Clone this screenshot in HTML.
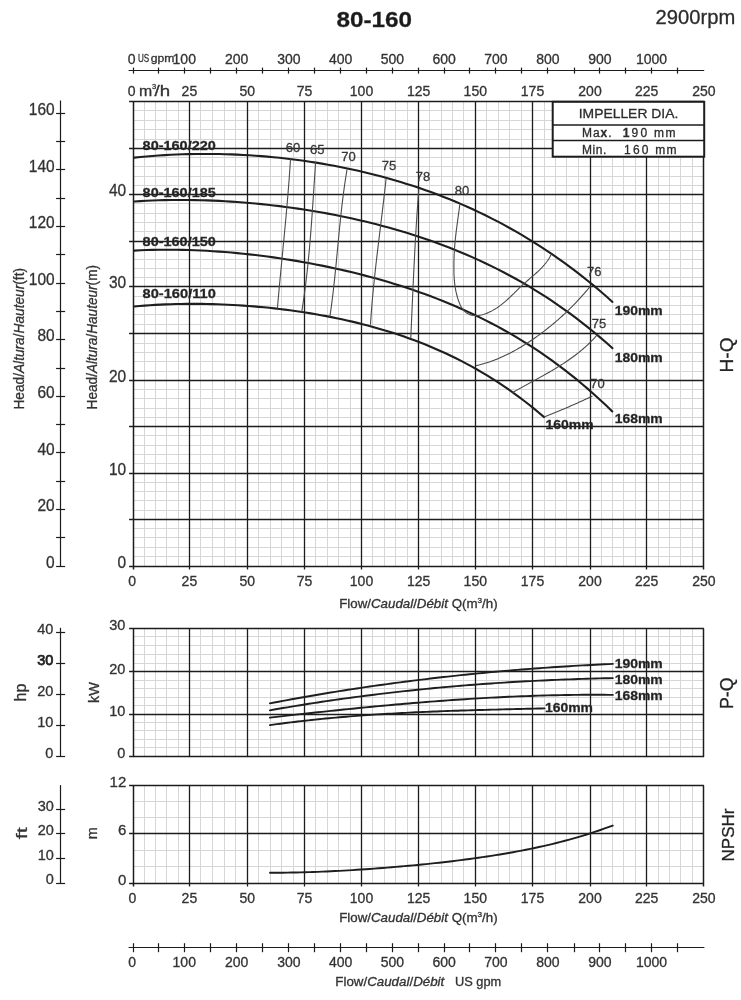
<!DOCTYPE html>
<html><head><meta charset="utf-8"><title>80-160 2900rpm</title>
<style>
html,body{margin:0;padding:0;background:#fff;}
body{width:741px;height:1000px;overflow:hidden;}
svg{display:block;font-family:"Liberation Sans", Arial, sans-serif;}
text{stroke:#333;stroke-width:0.3px;}
</style></head><body>
<svg width="741" height="1000" viewBox="0 0 741 1000">
<rect width="741" height="1000" fill="#fff"/>
<line x1="144.50" y1="101.50" x2="144.50" y2="566.50" stroke="#d6d6d6" stroke-width="1" />
<line x1="155.50" y1="101.50" x2="155.50" y2="566.50" stroke="#d6d6d6" stroke-width="1" />
<line x1="166.50" y1="101.50" x2="166.50" y2="566.50" stroke="#d6d6d6" stroke-width="1" />
<line x1="178.50" y1="101.50" x2="178.50" y2="566.50" stroke="#d6d6d6" stroke-width="1" />
<line x1="200.50" y1="101.50" x2="200.50" y2="566.50" stroke="#d6d6d6" stroke-width="1" />
<line x1="212.50" y1="101.50" x2="212.50" y2="566.50" stroke="#d6d6d6" stroke-width="1" />
<line x1="224.50" y1="101.50" x2="224.50" y2="566.50" stroke="#d6d6d6" stroke-width="1" />
<line x1="235.50" y1="101.50" x2="235.50" y2="566.50" stroke="#d6d6d6" stroke-width="1" />
<line x1="258.50" y1="101.50" x2="258.50" y2="566.50" stroke="#d6d6d6" stroke-width="1" />
<line x1="270.50" y1="101.50" x2="270.50" y2="566.50" stroke="#d6d6d6" stroke-width="1" />
<line x1="281.50" y1="101.50" x2="281.50" y2="566.50" stroke="#d6d6d6" stroke-width="1" />
<line x1="293.50" y1="101.50" x2="293.50" y2="566.50" stroke="#d6d6d6" stroke-width="1" />
<line x1="315.50" y1="101.50" x2="315.50" y2="566.50" stroke="#d6d6d6" stroke-width="1" />
<line x1="327.50" y1="101.50" x2="327.50" y2="566.50" stroke="#d6d6d6" stroke-width="1" />
<line x1="338.50" y1="101.50" x2="338.50" y2="566.50" stroke="#d6d6d6" stroke-width="1" />
<line x1="350.50" y1="101.50" x2="350.50" y2="566.50" stroke="#d6d6d6" stroke-width="1" />
<line x1="372.50" y1="101.50" x2="372.50" y2="566.50" stroke="#d6d6d6" stroke-width="1" />
<line x1="384.50" y1="101.50" x2="384.50" y2="566.50" stroke="#d6d6d6" stroke-width="1" />
<line x1="395.50" y1="101.50" x2="395.50" y2="566.50" stroke="#d6d6d6" stroke-width="1" />
<line x1="407.50" y1="101.50" x2="407.50" y2="566.50" stroke="#d6d6d6" stroke-width="1" />
<line x1="429.50" y1="101.50" x2="429.50" y2="566.50" stroke="#d6d6d6" stroke-width="1" />
<line x1="441.50" y1="101.50" x2="441.50" y2="566.50" stroke="#d6d6d6" stroke-width="1" />
<line x1="452.50" y1="101.50" x2="452.50" y2="566.50" stroke="#d6d6d6" stroke-width="1" />
<line x1="463.50" y1="101.50" x2="463.50" y2="566.50" stroke="#d6d6d6" stroke-width="1" />
<line x1="486.50" y1="101.50" x2="486.50" y2="566.50" stroke="#d6d6d6" stroke-width="1" />
<line x1="498.50" y1="101.50" x2="498.50" y2="566.50" stroke="#d6d6d6" stroke-width="1" />
<line x1="509.50" y1="101.50" x2="509.50" y2="566.50" stroke="#d6d6d6" stroke-width="1" />
<line x1="521.50" y1="101.50" x2="521.50" y2="566.50" stroke="#d6d6d6" stroke-width="1" />
<line x1="544.50" y1="101.50" x2="544.50" y2="566.50" stroke="#d6d6d6" stroke-width="1" />
<line x1="555.50" y1="101.50" x2="555.50" y2="566.50" stroke="#d6d6d6" stroke-width="1" />
<line x1="566.50" y1="101.50" x2="566.50" y2="566.50" stroke="#d6d6d6" stroke-width="1" />
<line x1="578.50" y1="101.50" x2="578.50" y2="566.50" stroke="#d6d6d6" stroke-width="1" />
<line x1="601.50" y1="101.50" x2="601.50" y2="566.50" stroke="#d6d6d6" stroke-width="1" />
<line x1="612.50" y1="101.50" x2="612.50" y2="566.50" stroke="#d6d6d6" stroke-width="1" />
<line x1="623.50" y1="101.50" x2="623.50" y2="566.50" stroke="#d6d6d6" stroke-width="1" />
<line x1="635.50" y1="101.50" x2="635.50" y2="566.50" stroke="#d6d6d6" stroke-width="1" />
<line x1="658.50" y1="101.50" x2="658.50" y2="566.50" stroke="#d6d6d6" stroke-width="1" />
<line x1="669.50" y1="101.50" x2="669.50" y2="566.50" stroke="#d6d6d6" stroke-width="1" />
<line x1="680.50" y1="101.50" x2="680.50" y2="566.50" stroke="#d6d6d6" stroke-width="1" />
<line x1="692.50" y1="101.50" x2="692.50" y2="566.50" stroke="#d6d6d6" stroke-width="1" />
<line x1="133.10" y1="556.50" x2="703.90" y2="556.50" stroke="#d6d6d6" stroke-width="1" />
<line x1="133.10" y1="547.50" x2="703.90" y2="547.50" stroke="#d6d6d6" stroke-width="1" />
<line x1="133.10" y1="537.50" x2="703.90" y2="537.50" stroke="#d6d6d6" stroke-width="1" />
<line x1="133.10" y1="528.50" x2="703.90" y2="528.50" stroke="#d6d6d6" stroke-width="1" />
<line x1="133.10" y1="510.50" x2="703.90" y2="510.50" stroke="#d6d6d6" stroke-width="1" />
<line x1="133.10" y1="500.50" x2="703.90" y2="500.50" stroke="#d6d6d6" stroke-width="1" />
<line x1="133.10" y1="491.50" x2="703.90" y2="491.50" stroke="#d6d6d6" stroke-width="1" />
<line x1="133.10" y1="482.50" x2="703.90" y2="482.50" stroke="#d6d6d6" stroke-width="1" />
<line x1="133.10" y1="463.50" x2="703.90" y2="463.50" stroke="#d6d6d6" stroke-width="1" />
<line x1="133.10" y1="454.50" x2="703.90" y2="454.50" stroke="#d6d6d6" stroke-width="1" />
<line x1="133.10" y1="445.50" x2="703.90" y2="445.50" stroke="#d6d6d6" stroke-width="1" />
<line x1="133.10" y1="435.50" x2="703.90" y2="435.50" stroke="#d6d6d6" stroke-width="1" />
<line x1="133.10" y1="417.50" x2="703.90" y2="417.50" stroke="#d6d6d6" stroke-width="1" />
<line x1="133.10" y1="408.50" x2="703.90" y2="408.50" stroke="#d6d6d6" stroke-width="1" />
<line x1="133.10" y1="398.50" x2="703.90" y2="398.50" stroke="#d6d6d6" stroke-width="1" />
<line x1="133.10" y1="389.50" x2="703.90" y2="389.50" stroke="#d6d6d6" stroke-width="1" />
<line x1="133.10" y1="371.50" x2="703.90" y2="371.50" stroke="#d6d6d6" stroke-width="1" />
<line x1="133.10" y1="361.50" x2="703.90" y2="361.50" stroke="#d6d6d6" stroke-width="1" />
<line x1="133.10" y1="352.50" x2="703.90" y2="352.50" stroke="#d6d6d6" stroke-width="1" />
<line x1="133.10" y1="343.50" x2="703.90" y2="343.50" stroke="#d6d6d6" stroke-width="1" />
<line x1="133.10" y1="324.50" x2="703.90" y2="324.50" stroke="#d6d6d6" stroke-width="1" />
<line x1="133.10" y1="314.50" x2="703.90" y2="314.50" stroke="#d6d6d6" stroke-width="1" />
<line x1="133.10" y1="305.50" x2="703.90" y2="305.50" stroke="#d6d6d6" stroke-width="1" />
<line x1="133.10" y1="296.50" x2="703.90" y2="296.50" stroke="#d6d6d6" stroke-width="1" />
<line x1="133.10" y1="277.50" x2="703.90" y2="277.50" stroke="#d6d6d6" stroke-width="1" />
<line x1="133.10" y1="268.50" x2="703.90" y2="268.50" stroke="#d6d6d6" stroke-width="1" />
<line x1="133.10" y1="259.50" x2="703.90" y2="259.50" stroke="#d6d6d6" stroke-width="1" />
<line x1="133.10" y1="250.50" x2="703.90" y2="250.50" stroke="#d6d6d6" stroke-width="1" />
<line x1="133.10" y1="231.50" x2="703.90" y2="231.50" stroke="#d6d6d6" stroke-width="1" />
<line x1="133.10" y1="222.50" x2="703.90" y2="222.50" stroke="#d6d6d6" stroke-width="1" />
<line x1="133.10" y1="213.50" x2="703.90" y2="213.50" stroke="#d6d6d6" stroke-width="1" />
<line x1="133.10" y1="203.50" x2="703.90" y2="203.50" stroke="#d6d6d6" stroke-width="1" />
<line x1="133.10" y1="185.50" x2="703.90" y2="185.50" stroke="#d6d6d6" stroke-width="1" />
<line x1="133.10" y1="176.50" x2="703.90" y2="176.50" stroke="#d6d6d6" stroke-width="1" />
<line x1="133.10" y1="166.50" x2="703.90" y2="166.50" stroke="#d6d6d6" stroke-width="1" />
<line x1="133.10" y1="157.50" x2="703.90" y2="157.50" stroke="#d6d6d6" stroke-width="1" />
<line x1="133.10" y1="139.50" x2="703.90" y2="139.50" stroke="#d6d6d6" stroke-width="1" />
<line x1="133.10" y1="129.50" x2="703.90" y2="129.50" stroke="#d6d6d6" stroke-width="1" />
<line x1="133.10" y1="120.50" x2="703.90" y2="120.50" stroke="#d6d6d6" stroke-width="1" />
<line x1="133.10" y1="110.50" x2="703.90" y2="110.50" stroke="#d6d6d6" stroke-width="1" />
<line x1="129.10" y1="566.50" x2="703.90" y2="566.50" stroke="#1c1c1c" stroke-width="1.3" />
<line x1="129.10" y1="519.50" x2="703.90" y2="519.50" stroke="#1c1c1c" stroke-width="1.3" />
<line x1="129.10" y1="473.50" x2="703.90" y2="473.50" stroke="#1c1c1c" stroke-width="1.3" />
<line x1="129.10" y1="426.50" x2="703.90" y2="426.50" stroke="#1c1c1c" stroke-width="1.3" />
<line x1="129.10" y1="380.50" x2="703.90" y2="380.50" stroke="#1c1c1c" stroke-width="1.3" />
<line x1="129.10" y1="333.50" x2="703.90" y2="333.50" stroke="#1c1c1c" stroke-width="1.3" />
<line x1="129.10" y1="286.50" x2="703.90" y2="286.50" stroke="#1c1c1c" stroke-width="1.3" />
<line x1="129.10" y1="241.50" x2="703.90" y2="241.50" stroke="#1c1c1c" stroke-width="1.3" />
<line x1="129.10" y1="194.50" x2="703.90" y2="194.50" stroke="#1c1c1c" stroke-width="1.3" />
<line x1="129.10" y1="148.50" x2="703.90" y2="148.50" stroke="#1c1c1c" stroke-width="1.3" />
<line x1="129.10" y1="101.50" x2="703.90" y2="101.50" stroke="#1c1c1c" stroke-width="1.3" />
<line x1="189.50" y1="101.50" x2="189.50" y2="569.50" stroke="#1c1c1c" stroke-width="1.3" />
<line x1="247.50" y1="101.50" x2="247.50" y2="569.50" stroke="#1c1c1c" stroke-width="1.3" />
<line x1="304.50" y1="101.50" x2="304.50" y2="569.50" stroke="#1c1c1c" stroke-width="1.3" />
<line x1="361.50" y1="101.50" x2="361.50" y2="569.50" stroke="#1c1c1c" stroke-width="1.3" />
<line x1="418.50" y1="101.50" x2="418.50" y2="569.50" stroke="#1c1c1c" stroke-width="1.3" />
<line x1="475.50" y1="101.50" x2="475.50" y2="569.50" stroke="#1c1c1c" stroke-width="1.3" />
<line x1="532.50" y1="101.50" x2="532.50" y2="569.50" stroke="#1c1c1c" stroke-width="1.3" />
<line x1="590.50" y1="101.50" x2="590.50" y2="569.50" stroke="#1c1c1c" stroke-width="1.3" />
<line x1="646.50" y1="101.50" x2="646.50" y2="569.50" stroke="#1c1c1c" stroke-width="1.3" />
<line x1="133.50" y1="101.50" x2="133.50" y2="569.50" stroke="#1c1c1c" stroke-width="1.5" />
<line x1="703.50" y1="101.50" x2="703.50" y2="569.50" stroke="#1c1c1c" stroke-width="1.5" />
<line x1="144.50" y1="628.50" x2="144.50" y2="756.50" stroke="#d6d6d6" stroke-width="1" />
<line x1="155.50" y1="628.50" x2="155.50" y2="756.50" stroke="#d6d6d6" stroke-width="1" />
<line x1="166.50" y1="628.50" x2="166.50" y2="756.50" stroke="#d6d6d6" stroke-width="1" />
<line x1="178.50" y1="628.50" x2="178.50" y2="756.50" stroke="#d6d6d6" stroke-width="1" />
<line x1="200.50" y1="628.50" x2="200.50" y2="756.50" stroke="#d6d6d6" stroke-width="1" />
<line x1="212.50" y1="628.50" x2="212.50" y2="756.50" stroke="#d6d6d6" stroke-width="1" />
<line x1="224.50" y1="628.50" x2="224.50" y2="756.50" stroke="#d6d6d6" stroke-width="1" />
<line x1="235.50" y1="628.50" x2="235.50" y2="756.50" stroke="#d6d6d6" stroke-width="1" />
<line x1="258.50" y1="628.50" x2="258.50" y2="756.50" stroke="#d6d6d6" stroke-width="1" />
<line x1="270.50" y1="628.50" x2="270.50" y2="756.50" stroke="#d6d6d6" stroke-width="1" />
<line x1="281.50" y1="628.50" x2="281.50" y2="756.50" stroke="#d6d6d6" stroke-width="1" />
<line x1="293.50" y1="628.50" x2="293.50" y2="756.50" stroke="#d6d6d6" stroke-width="1" />
<line x1="315.50" y1="628.50" x2="315.50" y2="756.50" stroke="#d6d6d6" stroke-width="1" />
<line x1="327.50" y1="628.50" x2="327.50" y2="756.50" stroke="#d6d6d6" stroke-width="1" />
<line x1="338.50" y1="628.50" x2="338.50" y2="756.50" stroke="#d6d6d6" stroke-width="1" />
<line x1="350.50" y1="628.50" x2="350.50" y2="756.50" stroke="#d6d6d6" stroke-width="1" />
<line x1="372.50" y1="628.50" x2="372.50" y2="756.50" stroke="#d6d6d6" stroke-width="1" />
<line x1="384.50" y1="628.50" x2="384.50" y2="756.50" stroke="#d6d6d6" stroke-width="1" />
<line x1="395.50" y1="628.50" x2="395.50" y2="756.50" stroke="#d6d6d6" stroke-width="1" />
<line x1="407.50" y1="628.50" x2="407.50" y2="756.50" stroke="#d6d6d6" stroke-width="1" />
<line x1="429.50" y1="628.50" x2="429.50" y2="756.50" stroke="#d6d6d6" stroke-width="1" />
<line x1="441.50" y1="628.50" x2="441.50" y2="756.50" stroke="#d6d6d6" stroke-width="1" />
<line x1="452.50" y1="628.50" x2="452.50" y2="756.50" stroke="#d6d6d6" stroke-width="1" />
<line x1="463.50" y1="628.50" x2="463.50" y2="756.50" stroke="#d6d6d6" stroke-width="1" />
<line x1="486.50" y1="628.50" x2="486.50" y2="756.50" stroke="#d6d6d6" stroke-width="1" />
<line x1="498.50" y1="628.50" x2="498.50" y2="756.50" stroke="#d6d6d6" stroke-width="1" />
<line x1="509.50" y1="628.50" x2="509.50" y2="756.50" stroke="#d6d6d6" stroke-width="1" />
<line x1="521.50" y1="628.50" x2="521.50" y2="756.50" stroke="#d6d6d6" stroke-width="1" />
<line x1="544.50" y1="628.50" x2="544.50" y2="756.50" stroke="#d6d6d6" stroke-width="1" />
<line x1="555.50" y1="628.50" x2="555.50" y2="756.50" stroke="#d6d6d6" stroke-width="1" />
<line x1="566.50" y1="628.50" x2="566.50" y2="756.50" stroke="#d6d6d6" stroke-width="1" />
<line x1="578.50" y1="628.50" x2="578.50" y2="756.50" stroke="#d6d6d6" stroke-width="1" />
<line x1="601.50" y1="628.50" x2="601.50" y2="756.50" stroke="#d6d6d6" stroke-width="1" />
<line x1="612.50" y1="628.50" x2="612.50" y2="756.50" stroke="#d6d6d6" stroke-width="1" />
<line x1="623.50" y1="628.50" x2="623.50" y2="756.50" stroke="#d6d6d6" stroke-width="1" />
<line x1="635.50" y1="628.50" x2="635.50" y2="756.50" stroke="#d6d6d6" stroke-width="1" />
<line x1="658.50" y1="628.50" x2="658.50" y2="756.50" stroke="#d6d6d6" stroke-width="1" />
<line x1="669.50" y1="628.50" x2="669.50" y2="756.50" stroke="#d6d6d6" stroke-width="1" />
<line x1="680.50" y1="628.50" x2="680.50" y2="756.50" stroke="#d6d6d6" stroke-width="1" />
<line x1="692.50" y1="628.50" x2="692.50" y2="756.50" stroke="#d6d6d6" stroke-width="1" />
<line x1="133.10" y1="747.50" x2="703.90" y2="747.50" stroke="#d6d6d6" stroke-width="1" />
<line x1="133.10" y1="739.50" x2="703.90" y2="739.50" stroke="#d6d6d6" stroke-width="1" />
<line x1="133.10" y1="730.50" x2="703.90" y2="730.50" stroke="#d6d6d6" stroke-width="1" />
<line x1="133.10" y1="722.50" x2="703.90" y2="722.50" stroke="#d6d6d6" stroke-width="1" />
<line x1="133.10" y1="705.50" x2="703.90" y2="705.50" stroke="#d6d6d6" stroke-width="1" />
<line x1="133.10" y1="697.50" x2="703.90" y2="697.50" stroke="#d6d6d6" stroke-width="1" />
<line x1="133.10" y1="688.50" x2="703.90" y2="688.50" stroke="#d6d6d6" stroke-width="1" />
<line x1="133.10" y1="680.50" x2="703.90" y2="680.50" stroke="#d6d6d6" stroke-width="1" />
<line x1="133.10" y1="663.50" x2="703.90" y2="663.50" stroke="#d6d6d6" stroke-width="1" />
<line x1="133.10" y1="654.50" x2="703.90" y2="654.50" stroke="#d6d6d6" stroke-width="1" />
<line x1="133.10" y1="645.50" x2="703.90" y2="645.50" stroke="#d6d6d6" stroke-width="1" />
<line x1="133.10" y1="636.50" x2="703.90" y2="636.50" stroke="#d6d6d6" stroke-width="1" />
<line x1="129.10" y1="756.50" x2="703.90" y2="756.50" stroke="#1c1c1c" stroke-width="1.3" />
<line x1="129.10" y1="714.50" x2="703.90" y2="714.50" stroke="#1c1c1c" stroke-width="1.3" />
<line x1="129.10" y1="671.50" x2="703.90" y2="671.50" stroke="#1c1c1c" stroke-width="1.3" />
<line x1="129.10" y1="628.50" x2="703.90" y2="628.50" stroke="#1c1c1c" stroke-width="1.3" />
<line x1="189.50" y1="628.50" x2="189.50" y2="757.10" stroke="#1c1c1c" stroke-width="1.3" />
<line x1="247.50" y1="628.50" x2="247.50" y2="757.10" stroke="#1c1c1c" stroke-width="1.3" />
<line x1="304.50" y1="628.50" x2="304.50" y2="757.10" stroke="#1c1c1c" stroke-width="1.3" />
<line x1="361.50" y1="628.50" x2="361.50" y2="757.10" stroke="#1c1c1c" stroke-width="1.3" />
<line x1="418.50" y1="628.50" x2="418.50" y2="757.10" stroke="#1c1c1c" stroke-width="1.3" />
<line x1="475.50" y1="628.50" x2="475.50" y2="757.10" stroke="#1c1c1c" stroke-width="1.3" />
<line x1="532.50" y1="628.50" x2="532.50" y2="757.10" stroke="#1c1c1c" stroke-width="1.3" />
<line x1="590.50" y1="628.50" x2="590.50" y2="757.10" stroke="#1c1c1c" stroke-width="1.3" />
<line x1="646.50" y1="628.50" x2="646.50" y2="757.10" stroke="#1c1c1c" stroke-width="1.3" />
<line x1="133.50" y1="628.50" x2="133.50" y2="757.10" stroke="#1c1c1c" stroke-width="1.5" />
<line x1="703.50" y1="628.50" x2="703.50" y2="757.10" stroke="#1c1c1c" stroke-width="1.5" />
<line x1="144.50" y1="785.50" x2="144.50" y2="883.50" stroke="#d6d6d6" stroke-width="1" />
<line x1="155.50" y1="785.50" x2="155.50" y2="883.50" stroke="#d6d6d6" stroke-width="1" />
<line x1="166.50" y1="785.50" x2="166.50" y2="883.50" stroke="#d6d6d6" stroke-width="1" />
<line x1="178.50" y1="785.50" x2="178.50" y2="883.50" stroke="#d6d6d6" stroke-width="1" />
<line x1="200.50" y1="785.50" x2="200.50" y2="883.50" stroke="#d6d6d6" stroke-width="1" />
<line x1="212.50" y1="785.50" x2="212.50" y2="883.50" stroke="#d6d6d6" stroke-width="1" />
<line x1="224.50" y1="785.50" x2="224.50" y2="883.50" stroke="#d6d6d6" stroke-width="1" />
<line x1="235.50" y1="785.50" x2="235.50" y2="883.50" stroke="#d6d6d6" stroke-width="1" />
<line x1="258.50" y1="785.50" x2="258.50" y2="883.50" stroke="#d6d6d6" stroke-width="1" />
<line x1="270.50" y1="785.50" x2="270.50" y2="883.50" stroke="#d6d6d6" stroke-width="1" />
<line x1="281.50" y1="785.50" x2="281.50" y2="883.50" stroke="#d6d6d6" stroke-width="1" />
<line x1="293.50" y1="785.50" x2="293.50" y2="883.50" stroke="#d6d6d6" stroke-width="1" />
<line x1="315.50" y1="785.50" x2="315.50" y2="883.50" stroke="#d6d6d6" stroke-width="1" />
<line x1="327.50" y1="785.50" x2="327.50" y2="883.50" stroke="#d6d6d6" stroke-width="1" />
<line x1="338.50" y1="785.50" x2="338.50" y2="883.50" stroke="#d6d6d6" stroke-width="1" />
<line x1="350.50" y1="785.50" x2="350.50" y2="883.50" stroke="#d6d6d6" stroke-width="1" />
<line x1="372.50" y1="785.50" x2="372.50" y2="883.50" stroke="#d6d6d6" stroke-width="1" />
<line x1="384.50" y1="785.50" x2="384.50" y2="883.50" stroke="#d6d6d6" stroke-width="1" />
<line x1="395.50" y1="785.50" x2="395.50" y2="883.50" stroke="#d6d6d6" stroke-width="1" />
<line x1="407.50" y1="785.50" x2="407.50" y2="883.50" stroke="#d6d6d6" stroke-width="1" />
<line x1="429.50" y1="785.50" x2="429.50" y2="883.50" stroke="#d6d6d6" stroke-width="1" />
<line x1="441.50" y1="785.50" x2="441.50" y2="883.50" stroke="#d6d6d6" stroke-width="1" />
<line x1="452.50" y1="785.50" x2="452.50" y2="883.50" stroke="#d6d6d6" stroke-width="1" />
<line x1="463.50" y1="785.50" x2="463.50" y2="883.50" stroke="#d6d6d6" stroke-width="1" />
<line x1="486.50" y1="785.50" x2="486.50" y2="883.50" stroke="#d6d6d6" stroke-width="1" />
<line x1="498.50" y1="785.50" x2="498.50" y2="883.50" stroke="#d6d6d6" stroke-width="1" />
<line x1="509.50" y1="785.50" x2="509.50" y2="883.50" stroke="#d6d6d6" stroke-width="1" />
<line x1="521.50" y1="785.50" x2="521.50" y2="883.50" stroke="#d6d6d6" stroke-width="1" />
<line x1="544.50" y1="785.50" x2="544.50" y2="883.50" stroke="#d6d6d6" stroke-width="1" />
<line x1="555.50" y1="785.50" x2="555.50" y2="883.50" stroke="#d6d6d6" stroke-width="1" />
<line x1="566.50" y1="785.50" x2="566.50" y2="883.50" stroke="#d6d6d6" stroke-width="1" />
<line x1="578.50" y1="785.50" x2="578.50" y2="883.50" stroke="#d6d6d6" stroke-width="1" />
<line x1="601.50" y1="785.50" x2="601.50" y2="883.50" stroke="#d6d6d6" stroke-width="1" />
<line x1="612.50" y1="785.50" x2="612.50" y2="883.50" stroke="#d6d6d6" stroke-width="1" />
<line x1="623.50" y1="785.50" x2="623.50" y2="883.50" stroke="#d6d6d6" stroke-width="1" />
<line x1="635.50" y1="785.50" x2="635.50" y2="883.50" stroke="#d6d6d6" stroke-width="1" />
<line x1="658.50" y1="785.50" x2="658.50" y2="883.50" stroke="#d6d6d6" stroke-width="1" />
<line x1="669.50" y1="785.50" x2="669.50" y2="883.50" stroke="#d6d6d6" stroke-width="1" />
<line x1="680.50" y1="785.50" x2="680.50" y2="883.50" stroke="#d6d6d6" stroke-width="1" />
<line x1="692.50" y1="785.50" x2="692.50" y2="883.50" stroke="#d6d6d6" stroke-width="1" />
<line x1="133.10" y1="866.50" x2="703.90" y2="866.50" stroke="#d6d6d6" stroke-width="1" />
<line x1="133.10" y1="850.50" x2="703.90" y2="850.50" stroke="#d6d6d6" stroke-width="1" />
<line x1="133.10" y1="817.50" x2="703.90" y2="817.50" stroke="#d6d6d6" stroke-width="1" />
<line x1="133.10" y1="801.50" x2="703.90" y2="801.50" stroke="#d6d6d6" stroke-width="1" />
<line x1="129.10" y1="883.50" x2="703.90" y2="883.50" stroke="#1c1c1c" stroke-width="1.3" />
<line x1="129.10" y1="833.50" x2="703.90" y2="833.50" stroke="#1c1c1c" stroke-width="1.3" />
<line x1="129.10" y1="785.50" x2="703.90" y2="785.50" stroke="#1c1c1c" stroke-width="1.3" />
<line x1="189.50" y1="785.50" x2="189.50" y2="886.50" stroke="#1c1c1c" stroke-width="1.3" />
<line x1="247.50" y1="785.50" x2="247.50" y2="886.50" stroke="#1c1c1c" stroke-width="1.3" />
<line x1="304.50" y1="785.50" x2="304.50" y2="886.50" stroke="#1c1c1c" stroke-width="1.3" />
<line x1="361.50" y1="785.50" x2="361.50" y2="886.50" stroke="#1c1c1c" stroke-width="1.3" />
<line x1="418.50" y1="785.50" x2="418.50" y2="886.50" stroke="#1c1c1c" stroke-width="1.3" />
<line x1="475.50" y1="785.50" x2="475.50" y2="886.50" stroke="#1c1c1c" stroke-width="1.3" />
<line x1="532.50" y1="785.50" x2="532.50" y2="886.50" stroke="#1c1c1c" stroke-width="1.3" />
<line x1="590.50" y1="785.50" x2="590.50" y2="886.50" stroke="#1c1c1c" stroke-width="1.3" />
<line x1="646.50" y1="785.50" x2="646.50" y2="886.50" stroke="#1c1c1c" stroke-width="1.3" />
<line x1="133.50" y1="785.50" x2="133.50" y2="886.50" stroke="#1c1c1c" stroke-width="1.5" />
<line x1="703.50" y1="785.50" x2="703.50" y2="886.50" stroke="#1c1c1c" stroke-width="1.5" />
<line x1="60.50" y1="100.40" x2="60.50" y2="566.60" stroke="#1c1c1c" stroke-width="1.2" />
<line x1="56.10" y1="566.50" x2="65.10" y2="566.50" stroke="#1c1c1c" stroke-width="1.2" />
<line x1="56.10" y1="537.50" x2="65.10" y2="537.50" stroke="#1c1c1c" stroke-width="1.2" />
<line x1="56.10" y1="509.50" x2="65.10" y2="509.50" stroke="#1c1c1c" stroke-width="1.2" />
<line x1="56.10" y1="481.50" x2="65.10" y2="481.50" stroke="#1c1c1c" stroke-width="1.2" />
<line x1="56.10" y1="452.50" x2="65.10" y2="452.50" stroke="#1c1c1c" stroke-width="1.2" />
<line x1="56.10" y1="424.50" x2="65.10" y2="424.50" stroke="#1c1c1c" stroke-width="1.2" />
<line x1="56.10" y1="396.50" x2="65.10" y2="396.50" stroke="#1c1c1c" stroke-width="1.2" />
<line x1="56.10" y1="368.50" x2="65.10" y2="368.50" stroke="#1c1c1c" stroke-width="1.2" />
<line x1="56.10" y1="339.50" x2="65.10" y2="339.50" stroke="#1c1c1c" stroke-width="1.2" />
<line x1="56.10" y1="311.50" x2="65.10" y2="311.50" stroke="#1c1c1c" stroke-width="1.2" />
<line x1="56.10" y1="283.50" x2="65.10" y2="283.50" stroke="#1c1c1c" stroke-width="1.2" />
<line x1="56.10" y1="254.50" x2="65.10" y2="254.50" stroke="#1c1c1c" stroke-width="1.2" />
<line x1="56.10" y1="226.50" x2="65.10" y2="226.50" stroke="#1c1c1c" stroke-width="1.2" />
<line x1="56.10" y1="198.50" x2="65.10" y2="198.50" stroke="#1c1c1c" stroke-width="1.2" />
<line x1="56.10" y1="169.50" x2="65.10" y2="169.50" stroke="#1c1c1c" stroke-width="1.2" />
<line x1="56.10" y1="141.50" x2="65.10" y2="141.50" stroke="#1c1c1c" stroke-width="1.2" />
<line x1="56.10" y1="113.50" x2="65.10" y2="113.50" stroke="#1c1c1c" stroke-width="1.2" />
<text x="54.60" y="567.70" font-size="16.1" text-anchor="end" textLength="8.6" lengthAdjust="spacingAndGlyphs" fill="#333">0</text>
<text x="54.60" y="511.10" font-size="16.1" text-anchor="end" textLength="17.2" lengthAdjust="spacingAndGlyphs" fill="#333">20</text>
<text x="54.60" y="454.51" font-size="16.1" text-anchor="end" textLength="17.2" lengthAdjust="spacingAndGlyphs" fill="#333">40</text>
<text x="54.60" y="397.91" font-size="16.1" text-anchor="end" textLength="17.2" lengthAdjust="spacingAndGlyphs" fill="#333">60</text>
<text x="54.60" y="341.32" font-size="16.1" text-anchor="end" textLength="17.2" lengthAdjust="spacingAndGlyphs" fill="#333">80</text>
<text x="54.60" y="284.72" font-size="16.1" text-anchor="end" textLength="25.8" lengthAdjust="spacingAndGlyphs" fill="#333">100</text>
<text x="54.60" y="228.12" font-size="16.1" text-anchor="end" textLength="25.8" lengthAdjust="spacingAndGlyphs" fill="#333">120</text>
<text x="54.60" y="171.53" font-size="16.1" text-anchor="end" textLength="25.8" lengthAdjust="spacingAndGlyphs" fill="#333">140</text>
<text x="54.60" y="114.93" font-size="16.1" text-anchor="end" textLength="25.8" lengthAdjust="spacingAndGlyphs" fill="#333">160</text>
<line x1="60.50" y1="627.80" x2="60.50" y2="756.90" stroke="#1c1c1c" stroke-width="1.2" />
<line x1="56.10" y1="756.50" x2="65.10" y2="756.50" stroke="#1c1c1c" stroke-width="1.2" />
<line x1="56.10" y1="725.50" x2="65.10" y2="725.50" stroke="#1c1c1c" stroke-width="1.2" />
<line x1="56.10" y1="694.50" x2="65.10" y2="694.50" stroke="#1c1c1c" stroke-width="1.2" />
<line x1="56.10" y1="663.50" x2="65.10" y2="663.50" stroke="#1c1c1c" stroke-width="1.2" />
<line x1="56.10" y1="632.50" x2="65.10" y2="632.50" stroke="#1c1c1c" stroke-width="1.2" />
<text x="53.30" y="757.90" font-size="14.5" text-anchor="end" fill="#333">0</text>
<text x="53.30" y="726.80" font-size="14.5" text-anchor="end" fill="#333">10</text>
<text x="53.30" y="695.70" font-size="14.5" text-anchor="end" fill="#333">20</text>
<text x="53.30" y="664.60" font-size="14.5" text-anchor="end" fill="#222" style="stroke:#222;stroke-width:0.75px">30</text>
<text x="53.30" y="633.50" font-size="14.5" text-anchor="end" fill="#333">40</text>
<line x1="60.50" y1="785.10" x2="60.50" y2="883.60" stroke="#1c1c1c" stroke-width="1.2" />
<line x1="56.10" y1="883.50" x2="65.10" y2="883.50" stroke="#1c1c1c" stroke-width="1.2" />
<line x1="56.10" y1="858.50" x2="65.10" y2="858.50" stroke="#1c1c1c" stroke-width="1.2" />
<line x1="56.10" y1="833.50" x2="65.10" y2="833.50" stroke="#1c1c1c" stroke-width="1.2" />
<line x1="56.10" y1="809.50" x2="65.10" y2="809.50" stroke="#1c1c1c" stroke-width="1.2" />
<text x="53.80" y="884.30" font-size="14.5" text-anchor="end" fill="#333">0</text>
<text x="53.80" y="859.73" font-size="14.5" text-anchor="end" fill="#333">10</text>
<text x="53.80" y="835.16" font-size="14.5" text-anchor="end" fill="#333">20</text>
<text x="53.80" y="810.59" font-size="14.5" text-anchor="end" fill="#333">30</text>
<text x="126.20" y="567.50" font-size="16.1" text-anchor="end" textLength="8.6" lengthAdjust="spacingAndGlyphs" fill="#333">0</text>
<text x="126.20" y="474.70" font-size="16.1" text-anchor="end" textLength="17.2" lengthAdjust="spacingAndGlyphs" fill="#333">10</text>
<text x="126.20" y="382.00" font-size="16.1" text-anchor="end" textLength="17.2" lengthAdjust="spacingAndGlyphs" fill="#333">20</text>
<text x="126.20" y="288.20" font-size="16.1" text-anchor="end" textLength="17.2" lengthAdjust="spacingAndGlyphs" fill="#333">30</text>
<text x="126.20" y="195.80" font-size="16.1" text-anchor="end" textLength="17.2" lengthAdjust="spacingAndGlyphs" fill="#333">40</text>
<text x="125.30" y="758.00" font-size="14.5" text-anchor="end" fill="#333">0</text>
<text x="125.30" y="715.90" font-size="14.5" text-anchor="end" fill="#333">10</text>
<text x="125.30" y="673.60" font-size="14.5" text-anchor="end" fill="#333">20</text>
<text x="125.30" y="630.10" font-size="14.5" text-anchor="end" fill="#333">30</text>
<text x="126.30" y="884.65" font-size="15" text-anchor="end" fill="#333">0</text>
<text x="126.30" y="835.30" font-size="15" text-anchor="end" fill="#333">6</text>
<text x="126.30" y="787.35" font-size="15" text-anchor="end" fill="#333">12</text>
<text transform="translate(24.00,338.80) rotate(-90)" x="0" y="0" font-size="14" text-anchor="middle" fill="#333" textLength="141.6" lengthAdjust="spacingAndGlyphs">Head/<tspan font-style="italic">Altura</tspan>/<tspan font-style="italic">Hauteur</tspan>(ft)</text>
<text transform="translate(97.00,337.20) rotate(-90)" x="0" y="0" font-size="14" text-anchor="middle" fill="#333" textLength="144.4" lengthAdjust="spacingAndGlyphs">Head/<tspan font-style="italic">Altura</tspan>/<tspan font-style="italic">Hauteur</tspan>(m)</text>
<text transform="translate(26.00,692.50) rotate(-90)" x="0" y="0" font-size="16" text-anchor="middle" fill="#333">hp</text>
<text transform="translate(99.00,692.60) rotate(-90)" x="0" y="0" font-size="14.5" text-anchor="middle" fill="#333">kW</text>
<text transform="translate(27.00,833.30) rotate(-90)" x="0" y="0" font-size="15.5" text-anchor="middle" textLength="11.8" lengthAdjust="spacingAndGlyphs" fill="#333">ft</text>
<text transform="translate(96.80,833.30) rotate(-90)" x="0" y="0" font-size="14.5" text-anchor="middle" fill="#333">m</text>
<text transform="translate(732.90,355.00) rotate(-90)" x="0" y="0" font-size="18" text-anchor="middle" textLength="35.0" lengthAdjust="spacingAndGlyphs" fill="#222">H-Q</text>
<text transform="translate(732.70,693.20) rotate(-90)" x="0" y="0" font-size="18" text-anchor="middle" textLength="31.5" lengthAdjust="spacingAndGlyphs" fill="#222">P-Q</text>
<text transform="translate(733.80,835.00) rotate(-90)" x="0" y="0" font-size="17" text-anchor="middle" textLength="53.0" lengthAdjust="spacingAndGlyphs" fill="#222">NPSHr</text>
<line x1="128.60" y1="70.50" x2="704.20" y2="70.50" stroke="#1c1c1c" stroke-width="1.2" />
<line x1="133.50" y1="67.60" x2="133.50" y2="73.60" stroke="#1c1c1c" stroke-width="1.2" />
<line x1="158.50" y1="67.60" x2="158.50" y2="73.60" stroke="#1c1c1c" stroke-width="1.2" />
<line x1="184.50" y1="67.60" x2="184.50" y2="73.60" stroke="#1c1c1c" stroke-width="1.2" />
<line x1="210.50" y1="67.60" x2="210.50" y2="73.60" stroke="#1c1c1c" stroke-width="1.2" />
<line x1="236.50" y1="67.60" x2="236.50" y2="73.60" stroke="#1c1c1c" stroke-width="1.2" />
<line x1="262.50" y1="67.60" x2="262.50" y2="73.60" stroke="#1c1c1c" stroke-width="1.2" />
<line x1="288.50" y1="67.60" x2="288.50" y2="73.60" stroke="#1c1c1c" stroke-width="1.2" />
<line x1="314.50" y1="67.60" x2="314.50" y2="73.60" stroke="#1c1c1c" stroke-width="1.2" />
<line x1="340.50" y1="67.60" x2="340.50" y2="73.60" stroke="#1c1c1c" stroke-width="1.2" />
<line x1="366.50" y1="67.60" x2="366.50" y2="73.60" stroke="#1c1c1c" stroke-width="1.2" />
<line x1="392.50" y1="67.60" x2="392.50" y2="73.60" stroke="#1c1c1c" stroke-width="1.2" />
<line x1="418.50" y1="67.60" x2="418.50" y2="73.60" stroke="#1c1c1c" stroke-width="1.2" />
<line x1="444.50" y1="67.60" x2="444.50" y2="73.60" stroke="#1c1c1c" stroke-width="1.2" />
<line x1="469.50" y1="67.60" x2="469.50" y2="73.60" stroke="#1c1c1c" stroke-width="1.2" />
<line x1="495.50" y1="67.60" x2="495.50" y2="73.60" stroke="#1c1c1c" stroke-width="1.2" />
<line x1="521.50" y1="67.60" x2="521.50" y2="73.60" stroke="#1c1c1c" stroke-width="1.2" />
<line x1="547.50" y1="67.60" x2="547.50" y2="73.60" stroke="#1c1c1c" stroke-width="1.2" />
<line x1="574.50" y1="67.60" x2="574.50" y2="73.60" stroke="#1c1c1c" stroke-width="1.2" />
<line x1="599.50" y1="67.60" x2="599.50" y2="73.60" stroke="#1c1c1c" stroke-width="1.2" />
<line x1="625.50" y1="67.60" x2="625.50" y2="73.60" stroke="#1c1c1c" stroke-width="1.2" />
<line x1="651.50" y1="67.60" x2="651.50" y2="73.60" stroke="#1c1c1c" stroke-width="1.2" />
<line x1="677.50" y1="67.60" x2="677.50" y2="73.60" stroke="#1c1c1c" stroke-width="1.2" />
<text x="131.70" y="64.20" font-size="14" text-anchor="middle" fill="#333">0</text>
<text x="137.90" y="61.90" font-size="11" textLength="11.2" lengthAdjust="spacingAndGlyphs" fill="#333">US</text>
<text x="150.80" y="62.30" font-size="10" textLength="23.6" lengthAdjust="spacingAndGlyphs" fill="#333">gpm</text>
<text x="184.25" y="64.20" font-size="14" text-anchor="middle" fill="#333">100</text>
<text x="236.62" y="64.20" font-size="14" text-anchor="middle" fill="#333">200</text>
<text x="288.84" y="64.20" font-size="14" text-anchor="middle" fill="#333">300</text>
<text x="340.67" y="64.20" font-size="14" text-anchor="middle" fill="#333">400</text>
<text x="392.48" y="64.20" font-size="14" text-anchor="middle" fill="#333">500</text>
<text x="444.17" y="64.20" font-size="14" text-anchor="middle" fill="#333">600</text>
<text x="495.86" y="64.20" font-size="14" text-anchor="middle" fill="#333">700</text>
<text x="547.91" y="64.20" font-size="14" text-anchor="middle" fill="#333">800</text>
<text x="599.99" y="64.20" font-size="14" text-anchor="middle" fill="#333">900</text>
<text x="651.47" y="64.20" font-size="14" text-anchor="middle" fill="#333">1000</text>
<text x="131.65" y="95.50" font-size="14" text-anchor="middle" fill="#333">0</text>
<text x="139.0" y="95.5" font-size="14" fill="#333" textLength="13.2" lengthAdjust="spacingAndGlyphs">m</text>
<text x="151.9" y="88.6" font-size="7.5" fill="#333">3</text>
<text x="154.6" y="95.5" font-size="14" fill="#333" textLength="15.6" lengthAdjust="spacingAndGlyphs">/h</text>
<text x="189.40" y="95.90" font-size="14" text-anchor="middle" fill="#333">25</text>
<text x="247.20" y="95.90" font-size="14" text-anchor="middle" fill="#333">50</text>
<text x="304.60" y="95.90" font-size="14" text-anchor="middle" fill="#333">75</text>
<text x="361.50" y="95.90" font-size="14" text-anchor="middle" fill="#333">100</text>
<text x="418.60" y="95.90" font-size="14" text-anchor="middle" fill="#333">125</text>
<text x="475.30" y="95.90" font-size="14" text-anchor="middle" fill="#333">150</text>
<text x="532.50" y="95.90" font-size="14" text-anchor="middle" fill="#333">175</text>
<text x="590.00" y="95.90" font-size="14" text-anchor="middle" fill="#333">200</text>
<text x="646.60" y="95.90" font-size="14" text-anchor="middle" fill="#333">225</text>
<text x="703.90" y="95.90" font-size="14" text-anchor="middle" fill="#333">250</text>
<text x="132.10" y="586.20" font-size="14" text-anchor="middle" fill="#333">0</text>
<text x="189.40" y="586.20" font-size="14" text-anchor="middle" fill="#333">25</text>
<text x="247.20" y="586.20" font-size="14" text-anchor="middle" fill="#333">50</text>
<text x="304.60" y="586.20" font-size="14" text-anchor="middle" fill="#333">75</text>
<text x="361.50" y="586.20" font-size="14" text-anchor="middle" fill="#333">100</text>
<text x="418.60" y="586.20" font-size="14" text-anchor="middle" fill="#333">125</text>
<text x="475.30" y="586.20" font-size="14" text-anchor="middle" fill="#333">150</text>
<text x="532.50" y="586.20" font-size="14" text-anchor="middle" fill="#333">175</text>
<text x="590.00" y="586.20" font-size="14" text-anchor="middle" fill="#333">200</text>
<text x="646.60" y="586.20" font-size="14" text-anchor="middle" fill="#333">225</text>
<text x="703.90" y="586.20" font-size="14" text-anchor="middle" fill="#333">250</text>
<text x="339.2" y="607.8" font-size="12.2" fill="#333" textLength="158.4" lengthAdjust="spacingAndGlyphs">Flow/<tspan font-style="italic">Caudal</tspan>/<tspan font-style="italic">Débit</tspan> Q(m<tspan font-size="7.5" dy="-4.5">3</tspan><tspan dy="4.5">/h)</tspan></text>
<text x="132.30" y="903.00" font-size="14" text-anchor="middle" fill="#333">0</text>
<text x="189.40" y="903.00" font-size="14" text-anchor="middle" fill="#333">25</text>
<text x="247.20" y="903.00" font-size="14" text-anchor="middle" fill="#333">50</text>
<text x="304.60" y="903.00" font-size="14" text-anchor="middle" fill="#333">75</text>
<text x="361.50" y="903.00" font-size="14" text-anchor="middle" fill="#333">100</text>
<text x="418.60" y="903.00" font-size="14" text-anchor="middle" fill="#333">125</text>
<text x="475.30" y="903.00" font-size="14" text-anchor="middle" fill="#333">150</text>
<text x="532.50" y="903.00" font-size="14" text-anchor="middle" fill="#333">175</text>
<text x="590.00" y="903.00" font-size="14" text-anchor="middle" fill="#333">200</text>
<text x="646.60" y="903.00" font-size="14" text-anchor="middle" fill="#333">225</text>
<text x="703.90" y="903.00" font-size="14" text-anchor="middle" fill="#333">250</text>
<text x="339.2" y="921.8" font-size="12.2" fill="#333" textLength="158.4" lengthAdjust="spacingAndGlyphs">Flow/<tspan font-style="italic">Caudal</tspan>/<tspan font-style="italic">Débit</tspan> Q(m<tspan font-size="7.5" dy="-4.5">3</tspan><tspan dy="4.5">/h)</tspan></text>
<line x1="128.60" y1="947.50" x2="704.40" y2="947.50" stroke="#1c1c1c" stroke-width="1.2" />
<line x1="133.50" y1="943.20" x2="133.50" y2="952.20" stroke="#1c1c1c" stroke-width="1.2" />
<line x1="158.50" y1="943.20" x2="158.50" y2="952.20" stroke="#1c1c1c" stroke-width="1.2" />
<line x1="184.50" y1="943.20" x2="184.50" y2="952.20" stroke="#1c1c1c" stroke-width="1.2" />
<line x1="210.50" y1="943.20" x2="210.50" y2="952.20" stroke="#1c1c1c" stroke-width="1.2" />
<line x1="236.50" y1="943.20" x2="236.50" y2="952.20" stroke="#1c1c1c" stroke-width="1.2" />
<line x1="262.50" y1="943.20" x2="262.50" y2="952.20" stroke="#1c1c1c" stroke-width="1.2" />
<line x1="288.50" y1="943.20" x2="288.50" y2="952.20" stroke="#1c1c1c" stroke-width="1.2" />
<line x1="314.50" y1="943.20" x2="314.50" y2="952.20" stroke="#1c1c1c" stroke-width="1.2" />
<line x1="340.50" y1="943.20" x2="340.50" y2="952.20" stroke="#1c1c1c" stroke-width="1.2" />
<line x1="366.50" y1="943.20" x2="366.50" y2="952.20" stroke="#1c1c1c" stroke-width="1.2" />
<line x1="392.50" y1="943.20" x2="392.50" y2="952.20" stroke="#1c1c1c" stroke-width="1.2" />
<line x1="418.50" y1="943.20" x2="418.50" y2="952.20" stroke="#1c1c1c" stroke-width="1.2" />
<line x1="444.50" y1="943.20" x2="444.50" y2="952.20" stroke="#1c1c1c" stroke-width="1.2" />
<line x1="469.50" y1="943.20" x2="469.50" y2="952.20" stroke="#1c1c1c" stroke-width="1.2" />
<line x1="495.50" y1="943.20" x2="495.50" y2="952.20" stroke="#1c1c1c" stroke-width="1.2" />
<line x1="521.50" y1="943.20" x2="521.50" y2="952.20" stroke="#1c1c1c" stroke-width="1.2" />
<line x1="547.50" y1="943.20" x2="547.50" y2="952.20" stroke="#1c1c1c" stroke-width="1.2" />
<line x1="574.50" y1="943.20" x2="574.50" y2="952.20" stroke="#1c1c1c" stroke-width="1.2" />
<line x1="599.50" y1="943.20" x2="599.50" y2="952.20" stroke="#1c1c1c" stroke-width="1.2" />
<line x1="625.50" y1="943.20" x2="625.50" y2="952.20" stroke="#1c1c1c" stroke-width="1.2" />
<line x1="651.50" y1="943.20" x2="651.50" y2="952.20" stroke="#1c1c1c" stroke-width="1.2" />
<line x1="677.50" y1="943.20" x2="677.50" y2="952.20" stroke="#1c1c1c" stroke-width="1.2" />
<text x="132.10" y="967.00" font-size="14" text-anchor="middle" fill="#333">0</text>
<text x="184.25" y="967.00" font-size="14" text-anchor="middle" fill="#333">100</text>
<text x="236.62" y="967.00" font-size="14" text-anchor="middle" fill="#333">200</text>
<text x="288.84" y="967.00" font-size="14" text-anchor="middle" fill="#333">300</text>
<text x="340.67" y="967.00" font-size="14" text-anchor="middle" fill="#333">400</text>
<text x="392.48" y="967.00" font-size="14" text-anchor="middle" fill="#333">500</text>
<text x="444.17" y="967.00" font-size="14" text-anchor="middle" fill="#333">600</text>
<text x="495.86" y="967.00" font-size="14" text-anchor="middle" fill="#333">700</text>
<text x="547.91" y="967.00" font-size="14" text-anchor="middle" fill="#333">800</text>
<text x="599.99" y="967.00" font-size="14" text-anchor="middle" fill="#333">900</text>
<text x="651.47" y="967.00" font-size="14" text-anchor="middle" fill="#333">1000</text>
<text x="335.3" y="985.8" font-size="12.4" fill="#333" textLength="109" lengthAdjust="spacingAndGlyphs">Flow/<tspan font-style="italic">Caudal</tspan>/<tspan font-style="italic">Débit</tspan></text>
<text x="455.0" y="985.8" font-size="12.4" fill="#333" textLength="46.2" lengthAdjust="spacingAndGlyphs">US gpm</text>
<text x="336.40" y="26.50" font-size="22" font-weight="bold" textLength="75.6" lengthAdjust="spacingAndGlyphs" fill="#1a1a1a">80-160</text>
<text x="655.60" y="24.30" font-size="19.5" textLength="79.6" lengthAdjust="spacingAndGlyphs" fill="#2a2a2a">2900rpm</text>
<path d="M134.30,157.63 L140.35,157.02 L146.41,156.46 L152.46,155.97 L158.51,155.53 L164.57,155.14 L170.62,154.81 L176.67,154.53 L182.73,154.31 L188.78,154.14 L194.83,154.02 L200.88,153.96 L206.94,153.94 L212.99,153.98 L219.04,154.07 L225.10,154.22 L231.15,154.41 L237.20,154.66 L243.26,154.95 L249.31,155.30 L255.36,155.71 L261.42,156.16 L267.47,156.66 L273.52,157.22 L279.58,157.83 L285.63,158.50 L291.68,159.21 L297.74,159.98 L303.79,160.81 L309.84,161.69 L315.89,162.62 L321.95,163.62 L328.00,164.66 L334.05,165.77 L340.11,166.94 L346.16,168.16 L352.21,169.44 L358.27,170.79 L364.32,172.20 L370.37,173.67 L376.43,175.20 L382.48,176.80 L388.53,178.47 L394.59,180.20 L400.64,182.00 L406.69,183.88 L412.75,185.82 L418.80,187.84 L424.85,189.93 L430.91,192.10 L436.96,194.34 L443.01,196.67 L449.06,199.07 L455.12,201.56 L461.17,204.13 L467.22,206.79 L473.28,209.54 L479.33,212.37 L485.38,215.30 L491.44,218.32 L497.49,221.44 L503.54,224.65 L509.60,227.97 L515.65,231.39 L521.70,234.91 L527.76,238.53 L533.81,242.27 L539.86,246.12 L545.92,250.08 L551.97,254.16 L558.02,258.36 L564.07,262.68 L570.13,267.12 L576.18,271.69 L582.23,276.39 L588.29,281.22 L594.34,286.18 L600.39,291.29 L606.45,296.53 L612.50,301.92" fill="none" stroke="#1e1e1e" stroke-width="2.1" stroke-linejoin="round" stroke-linecap="round"/>
<path d="M134.30,201.47 L140.35,201.09 L146.41,200.77 L152.46,200.50 L158.51,200.28 L164.57,200.12 L170.62,200.01 L176.67,199.95 L182.73,199.95 L188.78,199.99 L194.83,200.08 L200.88,200.21 L206.94,200.40 L212.99,200.63 L219.04,200.91 L225.10,201.23 L231.15,201.60 L237.20,202.01 L243.26,202.47 L249.31,202.97 L255.36,203.52 L261.42,204.12 L267.47,204.75 L273.52,205.44 L279.58,206.16 L285.63,206.94 L291.68,207.75 L297.74,208.62 L303.79,209.53 L309.84,210.49 L315.89,211.49 L321.95,212.54 L328.00,213.65 L334.05,214.80 L340.11,216.00 L346.16,217.25 L352.21,218.56 L358.27,219.91 L364.32,221.33 L370.37,222.79 L376.43,224.32 L382.48,225.90 L388.53,227.54 L394.59,229.24 L400.64,231.01 L406.69,232.83 L412.75,234.73 L418.80,236.69 L424.85,238.72 L430.91,240.81 L436.96,242.99 L443.01,245.23 L449.06,247.55 L455.12,249.95 L461.17,252.43 L467.22,255.00 L473.28,257.65 L479.33,260.38 L485.38,263.21 L491.44,266.12 L497.49,269.14 L503.54,272.25 L509.60,275.45 L515.65,278.77 L521.70,282.18 L527.76,285.71 L533.81,289.35 L539.86,293.10 L545.92,296.96 L551.97,300.95 L558.02,305.06 L564.07,309.30 L570.13,313.67 L576.18,318.17 L582.23,322.81 L588.29,327.59 L594.34,332.51 L600.39,337.58 L606.45,342.80 L612.50,348.18" fill="none" stroke="#1e1e1e" stroke-width="2.1" stroke-linejoin="round" stroke-linecap="round"/>
<path d="M134.30,250.63 L140.35,250.32 L146.40,250.07 L152.45,249.89 L158.50,249.77 L164.55,249.70 L170.60,249.70 L176.65,249.75 L182.71,249.86 L188.76,250.02 L194.81,250.23 L200.86,250.50 L206.91,250.81 L212.96,251.18 L219.01,251.59 L225.06,252.05 L231.11,252.56 L237.16,253.11 L243.21,253.72 L249.26,254.36 L255.31,255.06 L261.36,255.79 L267.41,256.57 L273.46,257.40 L279.52,258.27 L285.57,259.19 L291.62,260.15 L297.67,261.15 L303.72,262.21 L309.77,263.30 L315.82,264.45 L321.87,265.64 L327.92,266.88 L333.97,268.16 L340.02,269.50 L346.07,270.89 L352.12,272.32 L358.17,273.81 L364.22,275.36 L370.27,276.96 L376.33,278.61 L382.38,280.33 L388.43,282.10 L394.48,283.93 L400.53,285.83 L406.58,287.79 L412.63,289.81 L418.68,291.91 L424.73,294.07 L430.78,296.31 L436.83,298.62 L442.88,301.01 L448.93,303.48 L454.98,306.04 L461.03,308.67 L467.08,311.40 L473.14,314.21 L479.19,317.12 L485.24,320.12 L491.29,323.22 L497.34,326.42 L503.39,329.73 L509.44,333.15 L515.49,336.68 L521.54,340.32 L527.59,344.09 L533.64,347.97 L539.69,351.99 L545.74,356.13 L551.79,360.40 L557.84,364.82 L563.89,369.38 L569.95,374.08 L576.00,378.93 L582.05,383.94 L588.10,389.10 L594.15,394.43 L600.20,399.93 L606.25,405.60 L612.30,411.45" fill="none" stroke="#1e1e1e" stroke-width="2.1" stroke-linejoin="round" stroke-linecap="round"/>
<path d="M134.30,306.49 L139.49,306.03 L144.67,305.61 L149.86,305.24 L155.05,304.92 L160.24,304.64 L165.42,304.40 L170.61,304.21 L175.80,304.06 L180.99,303.94 L186.17,303.87 L191.36,303.84 L196.55,303.85 L201.74,303.89 L206.92,303.98 L212.11,304.10 L217.30,304.26 L222.48,304.45 L227.67,304.68 L232.86,304.95 L238.05,305.25 L243.23,305.59 L248.42,305.97 L253.61,306.38 L258.80,306.83 L263.98,307.31 L269.17,307.83 L274.36,308.39 L279.55,308.99 L284.73,309.62 L289.92,310.30 L295.11,311.01 L300.29,311.76 L305.48,312.55 L310.67,313.38 L315.86,314.26 L321.04,315.18 L326.23,316.14 L331.42,317.14 L336.61,318.19 L341.79,319.29 L346.98,320.44 L352.17,321.63 L357.36,322.88 L362.54,324.17 L367.73,325.52 L372.92,326.93 L378.11,328.39 L383.29,329.91 L388.48,331.48 L393.67,333.12 L398.85,334.82 L404.04,336.59 L409.23,338.42 L414.42,340.33 L419.60,342.30 L424.79,344.34 L429.98,346.46 L435.17,348.66 L440.35,350.94 L445.54,353.30 L450.73,355.74 L455.92,358.27 L461.10,360.88 L466.29,363.59 L471.48,366.39 L476.66,369.29 L481.85,372.29 L487.04,375.39 L492.23,378.60 L497.41,381.92 L502.60,385.34 L507.79,388.88 L512.98,392.54 L518.16,396.32 L523.35,400.22 L528.54,404.25 L533.73,408.41 L538.91,412.70 L544.10,417.13" fill="none" stroke="#1e1e1e" stroke-width="2.1" stroke-linejoin="round" stroke-linecap="round"/>
<path d="M290.50,159.20 L290.38,161.09 L290.26,162.98 L290.14,164.87 L290.01,166.76 L289.89,168.66 L289.76,170.55 L289.63,172.44 L289.49,174.33 L289.35,176.22 L289.22,178.11 L289.08,179.99 L288.93,181.88 L288.79,183.77 L288.64,185.66 L288.49,187.55 L288.34,189.44 L288.19,191.33 L288.04,193.22 L287.88,195.10 L287.72,196.99 L287.56,198.88 L287.40,200.77 L287.24,202.66 L287.08,204.54 L286.91,206.43 L286.75,208.32 L286.58,210.21 L286.41,212.09 L286.24,213.98 L286.07,215.87 L285.90,217.75 L285.73,219.64 L285.56,221.53 L285.38,223.41 L285.20,225.30 L285.03,227.19 L284.85,229.07 L284.67,230.96 L284.50,232.85 L284.32,234.73 L284.14,236.62 L283.96,238.50 L283.78,240.39 L283.60,242.28 L283.41,244.16 L283.23,246.05 L283.05,247.93 L282.87,249.82 L282.69,251.71 L282.50,253.59 L282.32,255.48 L282.14,257.36 L281.96,259.25 L281.77,261.14 L281.59,263.02 L281.41,264.91 L281.23,266.79 L281.05,268.68 L280.87,270.57 L280.69,272.45 L280.51,274.34 L280.33,276.22 L280.15,278.11 L279.97,280.00 L279.79,281.88 L279.61,283.77 L279.44,285.66 L279.26,287.54 L279.09,289.43 L278.91,291.32 L278.74,293.20 L278.57,295.09 L278.40,296.98 L278.23,298.86 L278.06,300.75 L277.89,302.64 L277.73,304.52 L277.56,306.41 L277.40,308.30" fill="none" stroke="#4a4a4a" stroke-width="1.1" stroke-linejoin="round" stroke-linecap="round"/>
<path d="M315.60,162.40 L315.47,164.29 L315.34,166.18 L315.21,168.07 L315.09,169.96 L314.96,171.85 L314.83,173.74 L314.71,175.63 L314.58,177.52 L314.46,179.41 L314.33,181.30 L314.21,183.19 L314.08,185.08 L313.96,186.97 L313.84,188.86 L313.71,190.76 L313.59,192.65 L313.46,194.54 L313.34,196.43 L313.21,198.32 L313.09,200.21 L312.96,202.10 L312.83,203.99 L312.70,205.88 L312.57,207.77 L312.44,209.66 L312.31,211.55 L312.18,213.45 L312.05,215.34 L311.91,217.23 L311.78,219.12 L311.64,221.01 L311.50,222.90 L311.36,224.79 L311.22,226.68 L311.07,228.57 L310.93,230.46 L310.78,232.34 L310.63,234.23 L310.48,236.12 L310.33,238.01 L310.17,239.90 L310.01,241.79 L309.85,243.68 L309.69,245.56 L309.52,247.45 L309.36,249.34 L309.18,251.23 L309.01,253.11 L308.83,255.00 L308.65,256.88 L308.47,258.77 L308.29,260.66 L308.10,262.54 L307.91,264.42 L307.71,266.31 L307.51,268.19 L307.31,270.08 L307.10,271.96 L306.89,273.84 L306.68,275.73 L306.46,277.61 L306.24,279.49 L306.01,281.37 L305.79,283.25 L305.55,285.13 L305.31,287.01 L305.07,288.89 L304.83,290.77 L304.57,292.65 L304.32,294.52 L304.06,296.40 L303.79,298.28 L303.52,300.15 L303.25,302.03 L302.97,303.91 L302.69,305.78 L302.40,307.65 L302.10,309.53 L301.80,311.40" fill="none" stroke="#4a4a4a" stroke-width="1.1" stroke-linejoin="round" stroke-linecap="round"/>
<path d="M347.00,169.70 L346.69,171.55 L346.38,173.40 L346.09,175.24 L345.79,177.09 L345.51,178.94 L345.23,180.79 L344.95,182.65 L344.68,184.50 L344.42,186.35 L344.16,188.20 L343.91,190.06 L343.66,191.91 L343.41,193.77 L343.17,195.62 L342.94,197.48 L342.70,199.33 L342.48,201.19 L342.25,203.05 L342.03,204.91 L341.82,206.76 L341.61,208.62 L341.40,210.48 L341.19,212.34 L340.99,214.20 L340.79,216.06 L340.59,217.92 L340.39,219.78 L340.20,221.64 L340.01,223.50 L339.82,225.36 L339.63,227.23 L339.45,229.09 L339.27,230.95 L339.08,232.81 L338.90,234.67 L338.72,236.54 L338.55,238.40 L338.37,240.26 L338.19,242.12 L338.02,243.99 L337.84,245.85 L337.66,247.71 L337.49,249.58 L337.31,251.44 L337.14,253.30 L336.96,255.16 L336.78,257.03 L336.60,258.89 L336.43,260.75 L336.25,262.61 L336.07,264.48 L335.88,266.34 L335.70,268.20 L335.51,270.06 L335.33,271.92 L335.14,273.79 L334.95,275.65 L334.75,277.51 L334.56,279.37 L334.36,281.23 L334.16,283.09 L333.95,284.95 L333.75,286.81 L333.54,288.67 L333.32,290.53 L333.11,292.38 L332.89,294.24 L332.66,296.10 L332.43,297.96 L332.20,299.81 L331.96,301.67 L331.72,303.53 L331.48,305.38 L331.23,307.24 L330.97,309.09 L330.71,310.94 L330.45,312.80 L330.18,314.65 L329.90,316.50" fill="none" stroke="#4a4a4a" stroke-width="1.1" stroke-linejoin="round" stroke-linecap="round"/>
<path d="M386.10,178.60 L385.90,180.44 L385.70,182.29 L385.50,184.13 L385.30,185.97 L385.10,187.81 L384.89,189.66 L384.68,191.50 L384.47,193.34 L384.26,195.18 L384.05,197.02 L383.83,198.86 L383.62,200.71 L383.40,202.55 L383.18,204.39 L382.96,206.23 L382.75,208.07 L382.52,209.91 L382.30,211.75 L382.08,213.59 L381.86,215.43 L381.63,217.27 L381.41,219.11 L381.18,220.95 L380.96,222.79 L380.73,224.63 L380.51,226.47 L380.28,228.31 L380.06,230.15 L379.83,231.99 L379.61,233.83 L379.38,235.67 L379.16,237.51 L378.94,239.35 L378.71,241.20 L378.49,243.04 L378.27,244.88 L378.04,246.72 L377.82,248.56 L377.60,250.40 L377.39,252.24 L377.17,254.08 L376.95,255.92 L376.74,257.76 L376.52,259.60 L376.31,261.45 L376.10,263.29 L375.89,265.13 L375.68,266.97 L375.47,268.81 L375.27,270.65 L375.07,272.50 L374.87,274.34 L374.67,276.18 L374.47,278.03 L374.28,279.87 L374.09,281.71 L373.90,283.56 L373.71,285.40 L373.52,287.25 L373.34,289.09 L373.16,290.94 L372.99,292.78 L372.81,294.63 L372.64,296.47 L372.48,298.32 L372.31,300.16 L372.15,302.01 L371.99,303.86 L371.84,305.71 L371.69,307.55 L371.54,309.40 L371.40,311.25 L371.26,313.10 L371.12,314.95 L370.99,316.80 L370.86,318.65 L370.74,320.50 L370.62,322.35 L370.50,324.20" fill="none" stroke="#4a4a4a" stroke-width="1.1" stroke-linejoin="round" stroke-linecap="round"/>
<path d="M418.80,189.20 L418.65,191.08 L418.51,192.96 L418.37,194.84 L418.23,196.71 L418.09,198.59 L417.95,200.47 L417.81,202.35 L417.68,204.23 L417.55,206.11 L417.42,207.99 L417.29,209.87 L417.16,211.75 L417.03,213.63 L416.91,215.51 L416.79,217.39 L416.67,219.27 L416.55,221.15 L416.43,223.03 L416.31,224.91 L416.19,226.79 L416.08,228.67 L415.97,230.55 L415.86,232.43 L415.74,234.31 L415.64,236.19 L415.53,238.07 L415.42,239.95 L415.31,241.83 L415.21,243.71 L415.11,245.59 L415.00,247.47 L414.90,249.35 L414.80,251.24 L414.70,253.12 L414.60,255.00 L414.51,256.88 L414.41,258.76 L414.31,260.64 L414.22,262.52 L414.12,264.41 L414.03,266.29 L413.94,268.17 L413.85,270.05 L413.75,271.93 L413.66,273.81 L413.57,275.70 L413.48,277.58 L413.40,279.46 L413.31,281.34 L413.22,283.22 L413.13,285.10 L413.05,286.99 L412.96,288.87 L412.87,290.75 L412.79,292.63 L412.70,294.51 L412.62,296.40 L412.54,298.28 L412.45,300.16 L412.37,302.04 L412.29,303.92 L412.20,305.81 L412.12,307.69 L412.04,309.57 L411.95,311.45 L411.87,313.33 L411.79,315.22 L411.71,317.10 L411.63,318.98 L411.54,320.86 L411.46,322.74 L411.38,324.63 L411.30,326.51 L411.21,328.39 L411.13,330.27 L411.05,332.15 L410.97,334.04 L410.88,335.92 L410.80,337.80" fill="none" stroke="#4a4a4a" stroke-width="1.1" stroke-linejoin="round" stroke-linecap="round"/>
<path d="M459.80,204.50 L459.60,206.07 L459.40,207.64 L459.19,209.20 L458.98,210.77 L458.77,212.34 L458.55,213.91 L458.34,215.48 L458.13,217.05 L457.91,218.62 L457.70,220.19 L457.48,221.76 L457.27,223.33 L457.06,224.90 L456.85,226.47 L456.65,228.04 L456.45,229.61 L456.25,231.19 L456.06,232.76 L455.87,234.33 L455.69,235.91 L455.52,237.48 L455.35,239.06 L455.19,240.63 L455.04,242.21 L454.89,243.78 L454.76,245.36 L454.63,246.94 L454.51,248.52 L454.41,250.10 L454.31,251.68 L454.23,253.26 L454.15,254.84 L454.09,256.42 L454.03,258.00 L453.99,259.59 L453.95,261.17 L453.93,262.76 L453.91,264.34 L453.90,265.92 L453.90,267.51 L453.91,269.09 L453.92,270.68 L453.95,272.26 L453.99,273.85 L454.05,275.43 L454.12,277.01 L454.22,278.59 L454.33,280.17 L454.48,281.75 L454.64,283.32 L454.84,284.90 L455.06,286.47 L455.31,288.03 L455.59,289.59 L455.89,291.15 L456.23,292.69 L456.60,294.23 L456.99,295.77 L457.42,297.29 L457.89,298.81 L458.39,300.31 L458.93,301.80 L459.51,303.28 L460.14,304.74 L460.84,306.16 L461.62,307.54 L462.50,308.87 L463.49,310.12 L464.59,311.29 L465.79,312.34 L467.09,313.27 L468.47,314.04 L469.94,314.65 L471.47,315.10 L473.05,315.40 L474.64,315.57 L476.24,315.60 L477.83,315.52 L479.41,315.33 L480.97,315.04 L482.52,314.67 L484.05,314.21 L485.56,313.70 L487.05,313.13 L488.52,312.51 L489.96,311.85 L491.38,311.14 L492.78,310.39 L494.16,309.60 L495.52,308.77 L496.86,307.91 L498.18,307.02 L499.47,306.09 L500.75,305.14 L502.01,304.17 L503.25,303.17 L504.47,302.15 L505.67,301.12 L506.86,300.07 L508.03,299.00 L509.19,297.92 L510.34,296.83 L511.48,295.73 L512.62,294.63 L513.75,293.52 L514.87,292.41 L516.00,291.29 L517.13,290.18 L518.26,289.07 L519.39,287.97 L520.53,286.87 L521.68,285.78 L522.84,284.71 L524.01,283.64 L525.19,282.59 L526.38,281.54 L527.58,280.51 L528.78,279.48 L529.99,278.45 L531.20,277.43 L532.40,276.40 L533.60,275.37 L534.79,274.33 L535.98,273.28 L537.15,272.22 L538.30,271.14 L539.45,270.05 L540.57,268.94 L541.67,267.81 L542.75,266.66 L543.80,265.48 L544.82,264.27 L545.82,263.03 L546.78,261.75 L547.70,260.45 L548.59,259.10 L549.43,257.71 L550.24,256.28 L551.00,254.80" fill="none" stroke="#4a4a4a" stroke-width="1.1" stroke-linejoin="round" stroke-linecap="round"/>
<path d="M590.10,286.50 L588.97,287.87 L587.83,289.24 L586.68,290.60 L585.52,291.96 L584.35,293.30 L583.18,294.64 L581.99,295.97 L580.80,297.30 L579.60,298.61 L578.39,299.92 L577.18,301.22 L575.95,302.52 L574.72,303.80 L573.48,305.08 L572.23,306.35 L570.97,307.61 L569.71,308.87 L568.43,310.11 L567.15,311.35 L565.87,312.58 L564.57,313.80 L563.26,315.02 L561.95,316.22 L560.63,317.42 L559.31,318.61 L557.97,319.79 L556.63,320.96 L555.28,322.12 L553.92,323.27 L552.55,324.42 L551.18,325.55 L549.80,326.68 L548.41,327.79 L547.01,328.90 L545.61,330.00 L544.20,331.09 L542.78,332.17 L541.36,333.24 L539.92,334.30 L538.48,335.35 L537.04,336.40 L535.58,337.43 L534.12,338.45 L532.65,339.46 L531.18,340.47 L529.69,341.46 L528.20,342.44 L526.70,343.41 L525.20,344.37 L523.69,345.32 L522.17,346.25 L520.64,347.18 L519.11,348.08 L517.56,348.98 L516.01,349.86 L514.46,350.72 L512.89,351.57 L511.32,352.41 L509.74,353.23 L508.15,354.03 L506.55,354.82 L504.95,355.59 L503.34,356.34 L501.71,357.07 L500.09,357.79 L498.45,358.48 L496.80,359.16 L495.15,359.81 L493.49,360.45 L491.82,361.06 L490.14,361.66 L488.45,362.23 L486.76,362.78 L485.05,363.31 L483.34,363.82 L481.62,364.30 L479.89,364.76 L478.15,365.19 L476.40,365.60" fill="none" stroke="#4a4a4a" stroke-width="1.1" stroke-linejoin="round" stroke-linecap="round"/>
<path d="M597.20,334.90 L596.33,335.90 L595.44,336.89 L594.55,337.87 L593.65,338.83 L592.74,339.79 L591.83,340.73 L590.90,341.66 L589.97,342.58 L589.04,343.50 L588.09,344.40 L587.14,345.29 L586.18,346.17 L585.21,347.04 L584.24,347.90 L583.26,348.75 L582.27,349.59 L581.28,350.43 L580.28,351.25 L579.28,352.07 L578.27,352.88 L577.25,353.68 L576.23,354.47 L575.20,355.25 L574.17,356.03 L573.13,356.79 L572.09,357.55 L571.04,358.31 L569.99,359.05 L568.93,359.79 L567.87,360.53 L566.80,361.25 L565.73,361.97 L564.65,362.69 L563.57,363.40 L562.49,364.10 L561.40,364.80 L560.31,365.49 L559.22,366.18 L558.12,366.86 L557.02,367.54 L555.92,368.21 L554.81,368.88 L553.70,369.54 L552.59,370.20 L551.47,370.86 L550.35,371.51 L549.23,372.16 L548.11,372.81 L546.99,373.45 L545.86,374.09 L544.74,374.73 L543.61,375.37 L542.48,376.00 L541.34,376.63 L540.21,377.26 L539.08,377.89 L537.94,378.52 L536.81,379.14 L535.67,379.77 L534.53,380.39 L533.39,381.01 L532.26,381.63 L531.12,382.25 L529.98,382.88 L528.84,383.50 L527.70,384.12 L526.57,384.74 L525.43,385.36 L524.29,385.99 L523.16,386.61 L522.02,387.23 L520.89,387.86 L519.76,388.49 L518.63,389.12 L517.50,389.75 L516.37,390.38 L515.25,391.02 L514.12,391.66 L513.00,392.30" fill="none" stroke="#4a4a4a" stroke-width="1.1" stroke-linejoin="round" stroke-linecap="round"/>
<path d="M592.10,396.20 L591.50,396.49 L590.90,396.77 L590.31,397.05 L589.71,397.34 L589.11,397.62 L588.51,397.90 L587.91,398.19 L587.31,398.47 L586.71,398.75 L586.11,399.03 L585.51,399.31 L584.91,399.59 L584.31,399.87 L583.71,400.14 L583.10,400.42 L582.50,400.70 L581.90,400.97 L581.30,401.25 L580.70,401.53 L580.09,401.80 L579.49,402.07 L578.89,402.35 L578.28,402.62 L577.68,402.89 L577.08,403.17 L576.47,403.44 L575.87,403.71 L575.26,403.98 L574.66,404.25 L574.05,404.52 L573.45,404.78 L572.84,405.05 L572.24,405.32 L571.63,405.59 L571.02,405.85 L570.42,406.12 L569.81,406.38 L569.20,406.65 L568.60,406.91 L567.99,407.17 L567.38,407.44 L566.77,407.70 L566.16,407.96 L565.56,408.22 L564.95,408.48 L564.34,408.74 L563.73,409.00 L563.12,409.26 L562.51,409.52 L561.90,409.78 L561.29,410.03 L560.68,410.29 L560.07,410.55 L559.46,410.80 L558.85,411.06 L558.23,411.31 L557.62,411.56 L557.01,411.82 L556.40,412.07 L555.78,412.32 L555.17,412.57 L554.56,412.82 L553.95,413.07 L553.33,413.32 L552.72,413.57 L552.10,413.82 L551.49,414.07 L550.88,414.32 L550.26,414.56 L549.65,414.81 L549.03,415.05 L548.42,415.30 L547.80,415.54 L547.18,415.79 L546.57,416.03 L545.95,416.27 L545.33,416.52 L544.72,416.76 L544.10,417.00" fill="none" stroke="#4a4a4a" stroke-width="1.1" stroke-linejoin="round" stroke-linecap="round"/>
<text x="293.00" y="152.00" font-size="13" text-anchor="middle" fill="#3a3a3a">60</text>
<text x="317.30" y="154.30" font-size="13" text-anchor="middle" fill="#3a3a3a">65</text>
<text x="348.50" y="161.00" font-size="13" text-anchor="middle" fill="#3a3a3a">70</text>
<text x="389.00" y="169.50" font-size="13" text-anchor="middle" fill="#3a3a3a">75</text>
<text x="423.10" y="181.00" font-size="13" text-anchor="middle" fill="#3a3a3a">78</text>
<text x="462.10" y="195.30" font-size="13" text-anchor="middle" fill="#3a3a3a">80</text>
<text x="594.20" y="275.70" font-size="13" text-anchor="middle" fill="#3a3a3a">76</text>
<text x="599.00" y="327.50" font-size="13" text-anchor="middle" fill="#3a3a3a">75</text>
<text x="597.60" y="387.60" font-size="13" text-anchor="middle" fill="#3a3a3a">70</text>
<text x="142.60" y="149.60" font-size="13.5" font-weight="bold" textLength="73.2" lengthAdjust="spacingAndGlyphs" fill="#222">80-160/220</text>
<text x="142.60" y="196.80" font-size="13.5" font-weight="bold" textLength="73.2" lengthAdjust="spacingAndGlyphs" fill="#222">80-160/185</text>
<text x="142.60" y="246.10" font-size="13.5" font-weight="bold" textLength="73.2" lengthAdjust="spacingAndGlyphs" fill="#222">80-160/150</text>
<text x="142.60" y="298.40" font-size="13.5" font-weight="bold" textLength="73.2" lengthAdjust="spacingAndGlyphs" fill="#222">80-160/110</text>
<text x="614.70" y="315.40" font-size="13.5" font-weight="bold" textLength="48.0" lengthAdjust="spacingAndGlyphs" fill="#222">190mm</text>
<text x="614.70" y="362.00" font-size="13.5" font-weight="bold" textLength="48.0" lengthAdjust="spacingAndGlyphs" fill="#222">180mm</text>
<text x="614.70" y="423.00" font-size="13.5" font-weight="bold" textLength="48.0" lengthAdjust="spacingAndGlyphs" fill="#222">168mm</text>
<text x="545.60" y="429.40" font-size="13.5" font-weight="bold" textLength="48.0" lengthAdjust="spacingAndGlyphs" fill="#222">160mm</text>
<path d="M269.90,703.36 L274.24,702.53 L278.58,701.71 L282.92,700.89 L287.26,700.09 L291.60,699.30 L295.94,698.51 L300.28,697.74 L304.62,696.97 L308.96,696.21 L313.31,695.47 L317.65,694.73 L321.99,693.99 L326.33,693.27 L330.67,692.56 L335.01,691.86 L339.35,691.16 L343.69,690.47 L348.03,689.80 L352.37,689.13 L356.71,688.47 L361.05,687.82 L365.39,687.17 L369.73,686.54 L374.07,685.91 L378.41,685.30 L382.75,684.69 L387.09,684.09 L391.43,683.50 L395.77,682.91 L400.12,682.34 L404.46,681.77 L408.80,681.22 L413.14,680.67 L417.48,680.12 L421.82,679.59 L426.16,679.07 L430.50,678.55 L434.84,678.04 L439.18,677.54 L443.52,677.05 L447.86,676.57 L452.20,676.09 L456.54,675.62 L460.88,675.16 L465.22,674.71 L469.56,674.27 L473.90,673.83 L478.24,673.40 L482.58,672.98 L486.93,672.57 L491.27,672.17 L495.61,671.77 L499.95,671.38 L504.29,671.00 L508.63,670.62 L512.97,670.26 L517.31,669.90 L521.65,669.55 L525.99,669.21 L530.33,668.87 L534.67,668.54 L539.01,668.22 L543.35,667.91 L547.69,667.60 L552.03,667.30 L556.37,667.01 L560.71,666.73 L565.05,666.45 L569.39,666.18 L573.74,665.92 L578.08,665.67 L582.42,665.42 L586.76,665.18 L591.10,664.95 L595.44,664.72 L599.78,664.50 L604.12,664.29 L608.46,664.09 L612.80,663.89" fill="none" stroke="#1e1e1e" stroke-width="1.9" stroke-linejoin="round" stroke-linecap="round"/>
<path d="M269.90,710.33 L274.24,709.56 L278.58,708.81 L282.92,708.06 L287.26,707.33 L291.60,706.61 L295.94,705.89 L300.28,705.19 L304.62,704.49 L308.96,703.81 L313.31,703.13 L317.65,702.47 L321.99,701.81 L326.33,701.17 L330.67,700.53 L335.01,699.91 L339.35,699.29 L343.69,698.68 L348.03,698.09 L352.37,697.50 L356.71,696.92 L361.05,696.35 L365.39,695.79 L369.73,695.24 L374.07,694.70 L378.41,694.17 L382.75,693.64 L387.09,693.13 L391.43,692.63 L395.77,692.13 L400.12,691.64 L404.46,691.17 L408.80,690.70 L413.14,690.24 L417.48,689.79 L421.82,689.35 L426.16,688.91 L430.50,688.49 L434.84,688.07 L439.18,687.67 L443.52,687.27 L447.86,686.88 L452.20,686.50 L456.54,686.13 L460.88,685.76 L465.22,685.41 L469.56,685.06 L473.90,684.72 L478.24,684.39 L482.58,684.07 L486.93,683.76 L491.27,683.45 L495.61,683.16 L499.95,682.87 L504.29,682.59 L508.63,682.32 L512.97,682.05 L517.31,681.80 L521.65,681.55 L525.99,681.31 L530.33,681.08 L534.67,680.85 L539.01,680.63 L543.35,680.43 L547.69,680.23 L552.03,680.03 L556.37,679.85 L560.71,679.67 L565.05,679.50 L569.39,679.34 L573.74,679.18 L578.08,679.04 L582.42,678.90 L586.76,678.76 L591.10,678.64 L595.44,678.52 L599.78,678.41 L604.12,678.31 L608.46,678.21 L612.80,678.12" fill="none" stroke="#1e1e1e" stroke-width="1.9" stroke-linejoin="round" stroke-linecap="round"/>
<path d="M269.90,717.61 L274.24,717.11 L278.58,716.62 L282.92,716.12 L287.26,715.64 L291.60,715.15 L295.94,714.67 L300.28,714.18 L304.62,713.71 L308.96,713.23 L313.31,712.76 L317.65,712.29 L321.99,711.83 L326.33,711.37 L330.67,710.91 L335.01,710.45 L339.35,710.00 L343.69,709.56 L348.03,709.12 L352.37,708.68 L356.71,708.24 L361.05,707.82 L365.39,707.39 L369.73,706.97 L374.07,706.56 L378.41,706.15 L382.75,705.74 L387.09,705.34 L391.43,704.95 L395.77,704.56 L400.12,704.18 L404.46,703.80 L408.80,703.43 L413.14,703.07 L417.48,702.71 L421.82,702.36 L426.16,702.01 L430.50,701.67 L434.84,701.34 L439.18,701.01 L443.52,700.69 L447.86,700.38 L452.20,700.07 L456.54,699.77 L460.88,699.48 L465.22,699.20 L469.56,698.92 L473.90,698.65 L478.24,698.39 L482.58,698.14 L486.93,697.90 L491.27,697.66 L495.61,697.43 L499.95,697.21 L504.29,697.00 L508.63,696.80 L512.97,696.61 L517.31,696.42 L521.65,696.25 L525.99,696.08 L530.33,695.93 L534.67,695.78 L539.01,695.64 L543.35,695.51 L547.69,695.39 L552.03,695.28 L556.37,695.19 L560.71,695.10 L565.05,695.02 L569.39,694.95 L573.74,694.90 L578.08,694.85 L582.42,694.81 L586.76,694.79 L591.10,694.78 L595.44,694.77 L599.78,694.78 L604.12,694.80 L608.46,694.83 L612.80,694.88" fill="none" stroke="#1e1e1e" stroke-width="1.9" stroke-linejoin="round" stroke-linecap="round"/>
<path d="M269.90,725.10 L273.38,724.62 L276.85,724.15 L280.33,723.69 L283.81,723.23 L287.29,722.79 L290.76,722.36 L294.24,721.94 L297.72,721.53 L301.19,721.12 L304.67,720.73 L308.15,720.35 L311.63,719.97 L315.10,719.61 L318.58,719.25 L322.06,718.90 L325.54,718.56 L329.01,718.23 L332.49,717.91 L335.97,717.60 L339.44,717.29 L342.92,717.00 L346.40,716.71 L349.88,716.42 L353.35,716.15 L356.83,715.88 L360.31,715.62 L363.78,715.37 L367.26,715.12 L370.74,714.88 L374.22,714.65 L377.69,714.42 L381.17,714.20 L384.65,713.99 L388.13,713.78 L391.60,713.58 L395.08,713.38 L398.56,713.19 L402.03,713.01 L405.51,712.83 L408.99,712.65 L412.47,712.48 L415.94,712.32 L419.42,712.16 L422.90,712.01 L426.37,711.86 L429.85,711.71 L433.33,711.57 L436.81,711.43 L440.28,711.30 L443.76,711.17 L447.24,711.04 L450.72,710.92 L454.19,710.80 L457.67,710.68 L461.15,710.57 L464.62,710.46 L468.10,710.35 L471.58,710.25 L475.06,710.14 L478.53,710.05 L482.01,709.95 L485.49,709.85 L488.96,709.76 L492.44,709.67 L495.92,709.58 L499.40,709.49 L502.87,709.40 L506.35,709.31 L509.83,709.23 L513.31,709.15 L516.78,709.06 L520.26,708.98 L523.74,708.90 L527.21,708.82 L530.69,708.73 L534.17,708.65 L537.65,708.57 L541.12,708.49 L544.60,708.41" fill="none" stroke="#1e1e1e" stroke-width="1.9" stroke-linejoin="round" stroke-linecap="round"/>
<text x="614.70" y="667.90" font-size="13" font-weight="bold" textLength="48.0" lengthAdjust="spacingAndGlyphs" fill="#222">190mm</text>
<text x="614.70" y="684.10" font-size="13" font-weight="bold" textLength="48.0" lengthAdjust="spacingAndGlyphs" fill="#222">180mm</text>
<text x="614.70" y="700.40" font-size="13" font-weight="bold" textLength="48.0" lengthAdjust="spacingAndGlyphs" fill="#222">168mm</text>
<text x="545.00" y="711.80" font-size="13" font-weight="bold" textLength="48.0" lengthAdjust="spacingAndGlyphs" fill="#222">160mm</text>
<path d="M270.00,872.72 L274.34,872.73 L278.68,872.72 L283.01,872.69 L287.35,872.64 L291.69,872.57 L296.03,872.49 L300.37,872.39 L304.70,872.27 L309.04,872.14 L313.38,871.99 L317.72,871.83 L322.06,871.66 L326.39,871.47 L330.73,871.27 L335.07,871.05 L339.41,870.83 L343.75,870.59 L348.08,870.34 L352.42,870.09 L356.76,869.82 L361.10,869.53 L365.44,869.24 L369.77,868.94 L374.11,868.63 L378.45,868.31 L382.79,867.97 L387.13,867.63 L391.46,867.28 L395.80,866.92 L400.14,866.54 L404.48,866.16 L408.82,865.76 L413.15,865.36 L417.49,864.94 L421.83,864.52 L426.17,864.08 L430.51,863.63 L434.84,863.16 L439.18,862.69 L443.52,862.20 L447.86,861.70 L452.19,861.19 L456.53,860.66 L460.87,860.11 L465.21,859.56 L469.55,858.98 L473.88,858.39 L478.22,857.78 L482.56,857.16 L486.90,856.51 L491.24,855.85 L495.57,855.17 L499.91,854.46 L504.25,853.74 L508.59,852.99 L512.93,852.22 L517.26,851.42 L521.60,850.60 L525.94,849.76 L530.28,848.88 L534.62,847.98 L538.95,847.05 L543.29,846.09 L547.63,845.09 L551.97,844.07 L556.31,843.00 L560.64,841.91 L564.98,840.78 L569.32,839.61 L573.66,838.40 L578.00,837.15 L582.33,835.86 L586.67,834.52 L591.01,833.14 L595.35,831.72 L599.69,830.24 L604.02,828.72 L608.36,827.15 L612.70,825.52" fill="none" stroke="#1e1e1e" stroke-width="1.9" stroke-linejoin="round" stroke-linecap="round"/>
<rect x="552.7" y="101.8" width="151.5" height="54.89999999999999" fill="#fff" stroke="#1c1c1c" stroke-width="2"/>
<line x1="552.70" y1="125.00" x2="704.20" y2="125.00" stroke="#1c1c1c" stroke-width="1.5" />
<line x1="552.70" y1="140.50" x2="704.20" y2="140.50" stroke="#1c1c1c" stroke-width="1.5" />
<text x="628.50" y="117.80" font-size="13.5" text-anchor="middle" textLength="99.5" lengthAdjust="spacingAndGlyphs" fill="#2a2a2a">IMPELLER DIA.</text>
<text x="582" y="137.3" font-size="12" fill="#2a2a2a" textLength="29.5" lengthAdjust="spacing">Ma<tspan font-weight="bold">x</tspan>.</text>
<text x="622.7" y="137.3" font-size="12" fill="#2a2a2a" textLength="24.4" lengthAdjust="spacing"><tspan font-weight="bold">1</tspan>90</text>
<text x="653.9" y="137.3" font-size="12" fill="#2a2a2a" textLength="21.7" lengthAdjust="spacing">mm</text>
<text x="582" y="153.5" font-size="12" fill="#2a2a2a" textLength="24.3" lengthAdjust="spacing">Min.</text>
<text x="624.1" y="153.5" font-size="12" fill="#2a2a2a" textLength="24.3" lengthAdjust="spacing">160</text>
<text x="655.3" y="153.5" font-size="12" fill="#2a2a2a" textLength="21.1" lengthAdjust="spacing">mm</text>
</svg>
</body></html>
